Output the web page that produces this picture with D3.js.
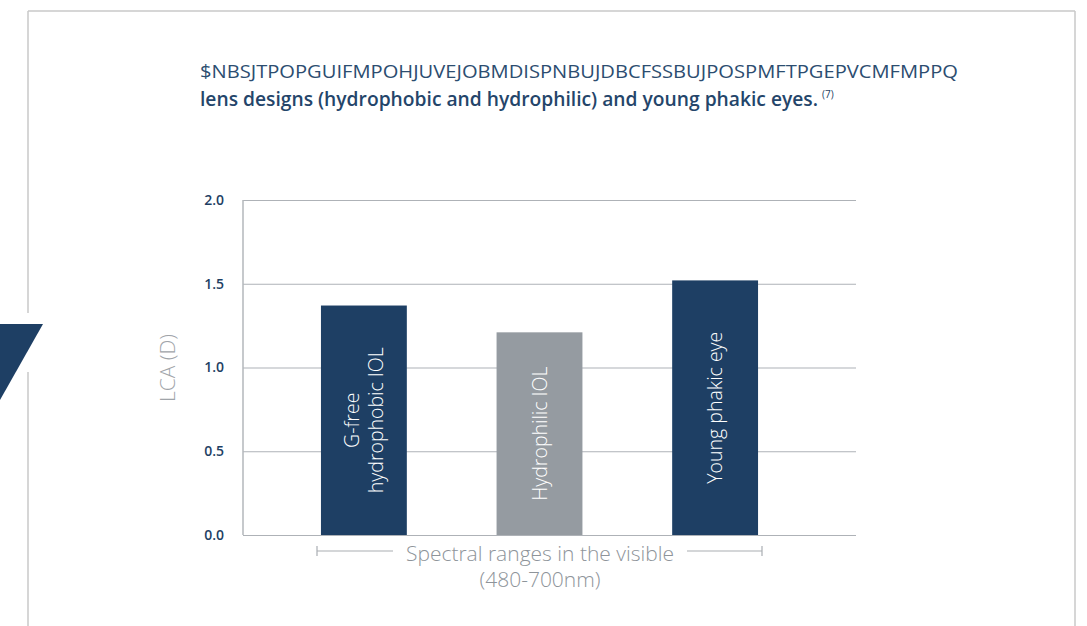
<!DOCTYPE html>
<html><head><meta charset="utf-8">
<script src="https://cdn.jsdelivr.net/npm/d3@7/dist/d3.min.js"></script>
<style>html,body{margin:0;padding:0;background:#fff;}svg{display:block;}</style>
</head><body><svg id="c" width="1087" height="626"></svg>
<script>
const categories = ["G-free hydrophobic IOL", "Hydrophilic IOL", "Young phakic eye"];
const barLabels = [["G-free", "hydrophobic IOL"], ["Hydrophilic IOL"], ["Young phakic eye"]];
const values = [1.37, 1.21, 1.52];
const barColors = ["#1e3f64", "#959ba1", "#1e3f64"];
const yTicks = [0, 0.5, 1.0, 1.5, 2.0];
const titleLine1 = "$NBSJTPOPGUIFMPOHJUVEJOBMDISPNBUJDBCFSSBUJPOSPMFTPGEPVCMFMPPQ";
const titleLine2 = "lens designs (hydrophobic and hydrophilic) and young  phakic eyes.";
const titleRef = "(7)";
const yLabel = "LCA (D)";
const xLabel = ["Spectral ranges in the visible", "(480-700nm)"];

const svg = d3.select("#c");
const font = "'Open Sans', 'Noto Sans', sans-serif";

// frame
const frame = svg.append("g").attr("stroke", "#c9c9c9").attr("stroke-width", 1.5).attr("fill", "none");
frame.append("line").attr("x1", 28).attr("x2", 1075).attr("y1", 11).attr("y2", 11);
frame.append("line").attr("x1", 1075).attr("x2", 1075).attr("y1", 11).attr("y2", 626);
frame.append("line").attr("x1", 28).attr("x2", 28).attr("y1", 11).attr("y2", 313);
frame.append("line").attr("x1", 28).attr("x2", 28).attr("y1", 372).attr("y2", 626);
svg.append("path").attr("d", "M0,324L43,324L0,400Z").attr("fill", "#1e3f64");

// title
svg.append("text").attr("x", 200).attr("y", 78).attr("font-family", font).attr("font-size", 19)
  .attr("fill", "#2c4d70").attr("textLength", 758).attr("lengthAdjust", "spacingAndGlyphs").text(titleLine1);
svg.append("text").attr("x", 200).attr("y", 106).attr("font-family", font).attr("font-size", 19).attr("font-weight", 600)
  .attr("fill", "#24456a").attr("textLength", 618).attr("lengthAdjust", "spacingAndGlyphs").text(titleLine2);
svg.append("text").attr("x", 822).attr("y", 98).attr("font-family", font).attr("font-size", 10)
  .attr("fill", "#1e3f64").text(titleRef);

const plotL = 243, plotR = 856, plotT = 200, plotB = 535;
const y = d3.scaleLinear().domain([0, 2]).range([plotB, plotT]);
const x = d3.scaleBand().domain(categories).range([276, 803]).paddingInner(0.511).paddingOuter(0.256);

// gridlines
const yAxis = d3.axisLeft(y).tickValues(yTicks).tickFormat(d3.format(".1f")).tickSize(-(plotR - plotL)).tickPadding(19);
const ga = svg.append("g").attr("transform", `translate(${plotL},0)`).call(yAxis);
ga.select(".domain").remove();
ga.selectAll(".tick line").attr("stroke", "#aeb2b7").attr("stroke-width", 1.2);
ga.selectAll(".tick text").attr("font-family", font).attr("font-size", 14).attr("font-weight", 600)
  .attr("fill", "#1e3f64");
svg.append("line").attr("x1", plotL).attr("x2", plotL).attr("y1", plotT).attr("y2", plotB)
  .attr("stroke", "#b3b7bb").attr("stroke-width", 1.5);

// bars
svg.append("g").selectAll("rect").data(categories).join("rect")
  .attr("x", d => x(d)).attr("width", x.bandwidth())
  .attr("y", (d, i) => y(values[i])).attr("height", (d, i) => y(0) - y(values[i]))
  .attr("fill", (d, i) => barColors[i]);

// bar labels
categories.forEach((c, i) => {
  const cx = x(c) + x.bandwidth() / 2;
  const cy = (y(values[i]) + y(0)) / 2;
  const lines = barLabels[i];
  const lh = 24;
  const t = svg.append("text").attr("transform", `translate(${cx},${cy}) rotate(-90)`)
    .attr("text-anchor", "middle").attr("font-family", font).attr("font-size", 19.5).attr("font-weight", 300)
    .attr("fill", "#ffffff");
  lines.forEach((ln, k) => {
    t.append("tspan").attr("x", 0).attr("y", (k - (lines.length - 1) / 2) * lh + 7).text(ln);
  });
});

// y label
svg.append("text").attr("transform", `translate(175,368) rotate(-90)`).attr("text-anchor", "middle")
  .attr("font-family", font).attr("font-size", 21).attr("font-weight", 300).attr("fill", "#9fa4a9").text(yLabel);

// x label with bracket
const xl = svg.append("g");
xl.append("text").attr("x", 540).attr("y", 561).attr("text-anchor", "middle").attr("font-family", font)
  .attr("font-size", 21).attr("font-weight", 300).attr("fill", "#8e949a").text(xLabel[0]);
xl.append("text").attr("x", 540).attr("y", 587).attr("text-anchor", "middle").attr("font-family", font)
  .attr("font-size", 21).attr("font-weight", 300).attr("fill", "#8e949a").text(xLabel[1]);
const br = xl.append("g").attr("stroke", "#a9adb2").attr("stroke-width", 1.2);
br.append("line").attr("x1", 317).attr("x2", 393).attr("y1", 551).attr("y2", 551);
br.append("line").attr("x1", 317).attr("x2", 317).attr("y1", 546).attr("y2", 556);
br.append("line").attr("x1", 687).attr("x2", 762).attr("y1", 551).attr("y2", 551);
br.append("line").attr("x1", 762).attr("x2", 762).attr("y1", 546).attr("y2", 556);
</script></body></html>
